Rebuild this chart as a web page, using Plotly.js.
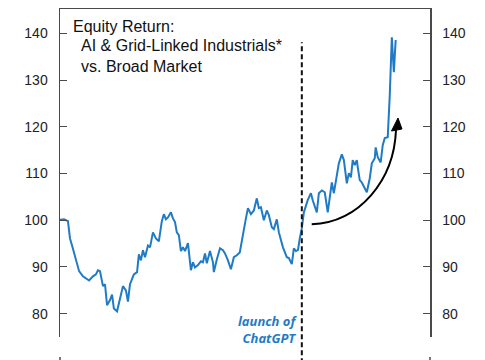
<!DOCTYPE html>
<html>
<head>
<meta charset="utf-8">
<script src="https://cdn.plot.ly/plotly-3.0.1.min.js"></script>
<style>html,body{margin:0;padding:0;background:#fff;}#chart{width:485px;height:360px;}</style>
</head>
<body>
<div id="chart"></div>
<script>
// Relative equity return index: AI & grid-linked industrials vs. broad market
const dates = [
"2020-01-01","2020-01-19","2020-02-05","2020-02-14","2020-02-23","2020-03-07","2020-03-25","2020-04-11","2020-04-24","2020-05-08",
"2020-05-25","2020-06-07","2020-06-16","2020-06-25","2020-07-08","2020-07-17","2020-07-26","2020-08-08","2020-08-17","2020-08-25",
"2020-09-08","2020-09-21","2020-10-04","2020-10-17","2020-10-26","2020-11-04","2020-11-21","2020-12-05","2020-12-13","2020-12-22",
"2020-12-31","2021-01-09","2021-01-22","2021-01-31","2021-02-13","2021-02-26","2021-03-11","2021-03-24","2021-04-02","2021-04-11",
"2021-04-20","2021-05-03","2021-05-12","2021-05-21","2021-05-29","2021-06-07","2021-06-16","2021-06-25","2021-07-04","2021-07-17",
"2021-07-30","2021-08-08","2021-08-17","2021-08-30","2021-09-12","2021-09-21","2021-09-30","2021-10-08","2021-10-22","2021-11-04",
"2021-11-08","2021-11-21","2021-12-05","2021-12-18","2021-12-27","2022-01-09","2022-01-22","2022-02-04","2022-02-17","2022-03-02",
"2022-03-16","2022-03-29","2022-04-07","2022-04-20","2022-05-03","2022-05-16","2022-05-25","2022-06-03","2022-06-16","2022-06-29",
"2022-07-08","2022-07-21","2022-07-30","2022-08-12","2022-08-21","2022-09-08","2022-09-25","2022-10-04","2022-10-17","2022-10-26",
"2022-11-04","2022-11-13","2022-11-21","2022-11-30","2022-12-09","2022-12-26","2023-01-09","2023-01-17","2023-02-04","2023-02-13",
"2023-02-26","2023-03-11","2023-03-24","2023-04-02","2023-04-11","2023-04-20","2023-05-03","2023-05-12","2023-05-25","2023-06-03",
"2023-06-16","2023-06-25","2023-07-04","2023-07-12","2023-07-21","2023-07-30","2023-08-03","2023-08-12","2023-08-21","2023-08-30",
"2023-09-12","2023-09-25","2023-10-04","2023-10-17","2023-10-21","2023-10-30","2023-11-12","2023-11-21","2023-11-30","2023-12-13",
"2023-12-22","2023-12-31","2024-01-09","2024-01-17"
];
const relReturn = [
100.1,100.2,99.8,96.1,94.6,92.1,89.1,88.0,87.6,87.1,
88.0,88.4,89.3,89.1,85.9,86.3,81.8,82.9,84.1,81.1,
80.5,83.3,85.9,85.0,82.6,86.3,88.4,88.9,92.7,91.4,
93.6,92.1,94.6,94.2,97.4,96.1,95.5,99.8,101.3,100.2,
100.6,101.7,100.4,99.6,97.4,96.8,93.4,94.2,93.4,95.1,
89.3,91.0,89.9,90.4,91.2,91.0,92.9,90.8,93.4,91.0,
88.9,91.6,94.0,93.6,92.9,91.4,89.5,92.1,92.5,93.1,
97.2,100.4,102.6,101.3,102.1,104.7,102.6,102.8,100.0,102.1,
101.1,98.5,98.1,100.2,97.4,94.2,92.1,91.9,90.6,94.0,
93.4,93.6,96.1,98.3,101.7,104.3,105.8,104.3,101.7,105.8,
106.4,106.0,101.7,104.9,108.1,105.8,109.2,112.2,114.1,112.9,
107.9,110.1,109.2,112.9,111.8,112.9,111.4,108.6,108.1,107.1,
106.0,109.0,112.2,113.3,115.6,113.5,112.4,116.1,117.6,117.8,
126.8,139.2,131.7,138.6
];
const yTicks = [80, 90, 100, 110, 120, 130, 140];
const chatgptLaunch = "2022-11-30";
const titleLines = ["Equity Return:", "AI & Grid-Linked Industrials*", "vs. Broad Market"];
const launchLabel = ["launch of", "ChatGPT"];

const blue = "#1f7bc6";
const axisColor = "#4a4a4a";
const fontFam = "Liberation Sans, Arial, sans-serif";

const trace = {
  x: dates, y: relReturn, type: "scatter", mode: "lines",
  line: {color: blue, width: 2}, hoverinfo: "skip", showlegend: false
};
const trace2 = {
  x: dates, y: relReturn, type: "scatter", mode: "lines", yaxis: "y2",
  line: {color: "rgba(0,0,0,0)", width: 0}, hoverinfo: "skip", showlegend: false
};

const yBase = {
  range: [75, 145.25], tickvals: yTicks, ticktext: yTicks.map(String),
  showline: true, linecolor: axisColor, linewidth: 1.5,
  ticks: "inside", ticklen: 7, tickwidth: 1, tickcolor: axisColor,
  showgrid: false, zeroline: false, ticklabelstandoff: 8,
  tickfont: {family: fontFam, size: 14, color: "#222"}, fixedrange: true
};

const layout = {
  width: 485, height: 360,
  margin: {l: 60, r: 55, t: 9, b: 23, pad: 0},
  paper_bgcolor: "#fff", plot_bgcolor: "#fff",
  xaxis: {
    type: "date", range: ["2020-01-01", "2024-06-16"], side: "top",
    showline: true, linecolor: axisColor, linewidth: 1.5,
    ticks: "", showticklabels: false, showgrid: false, zeroline: false
  },
  yaxis: Object.assign({}, yBase, {side: "left"}),
  yaxis2: Object.assign({}, yBase, {side: "right", overlaying: "y"}),
  shapes: [
    {type: "line", xref: "x", yref: "paper", x0: chatgptLaunch, x1: chatgptLaunch, y0: -0.08, y1: 0.899,
     line: {color: "#111", width: 2, dash: "5px,3px"}},
    {type: "line", xref: "paper", yref: "paper", x0: 0, x1: 0, y0: -0.061, y1: -0.08,
     line: {color: axisColor, width: 1.5}},
    {type: "line", xref: "paper", yref: "paper", x0: 1, x1: 1, y0: -0.061, y1: -0.08,
     line: {color: axisColor, width: 1.5}},
    {type: "path", xref: "paper", yref: "paper",
     path: "M 0.6803,0.3436 C 0.8108,0.3506 0.9027,0.4787 0.9081,0.6311",
     line: {color: "#000", width: 2}},
    {type: "path", xref: "paper", yref: "paper",
     path: "M 0.9135,0.6677 L 0.8959,0.6280 L 0.9243,0.6341 Z",
     fillcolor: "#000", line: {color: "#000", width: 1}}
  ],
  annotations: [
    {xref: "paper", yref: "paper", x: 0.031, y: 0.948, xanchor: "left", yanchor: "middle",
     text: titleLines[0], showarrow: false, font: {family: fontFam, size: 16, color: "#111"}},
    {xref: "paper", yref: "paper", x: 0.052, y: 0.890, xanchor: "left", yanchor: "middle",
     text: titleLines[1], showarrow: false, font: {family: fontFam, size: 16, color: "#111"}},
    {xref: "paper", yref: "paper", x: 0.052, y: 0.825, xanchor: "left", yanchor: "middle",
     text: titleLines[2], showarrow: false, font: {family: fontFam, size: 16, color: "#111"}},
    {xref: "paper", yref: "paper", x: 0.645, y: 0.023, xanchor: "right", yanchor: "middle",
     align: "right", text: launchLabel.join("<br>"), showarrow: false,
     font: {family: "Open Sans, sans-serif", size: 13, color: blue, weight: "bold", style: "italic"}}
  ]
};

Plotly.newPlot("chart", [trace, trace2], layout, {staticPlot: true, displayModeBar: false});
</script>
</body>
</html>
